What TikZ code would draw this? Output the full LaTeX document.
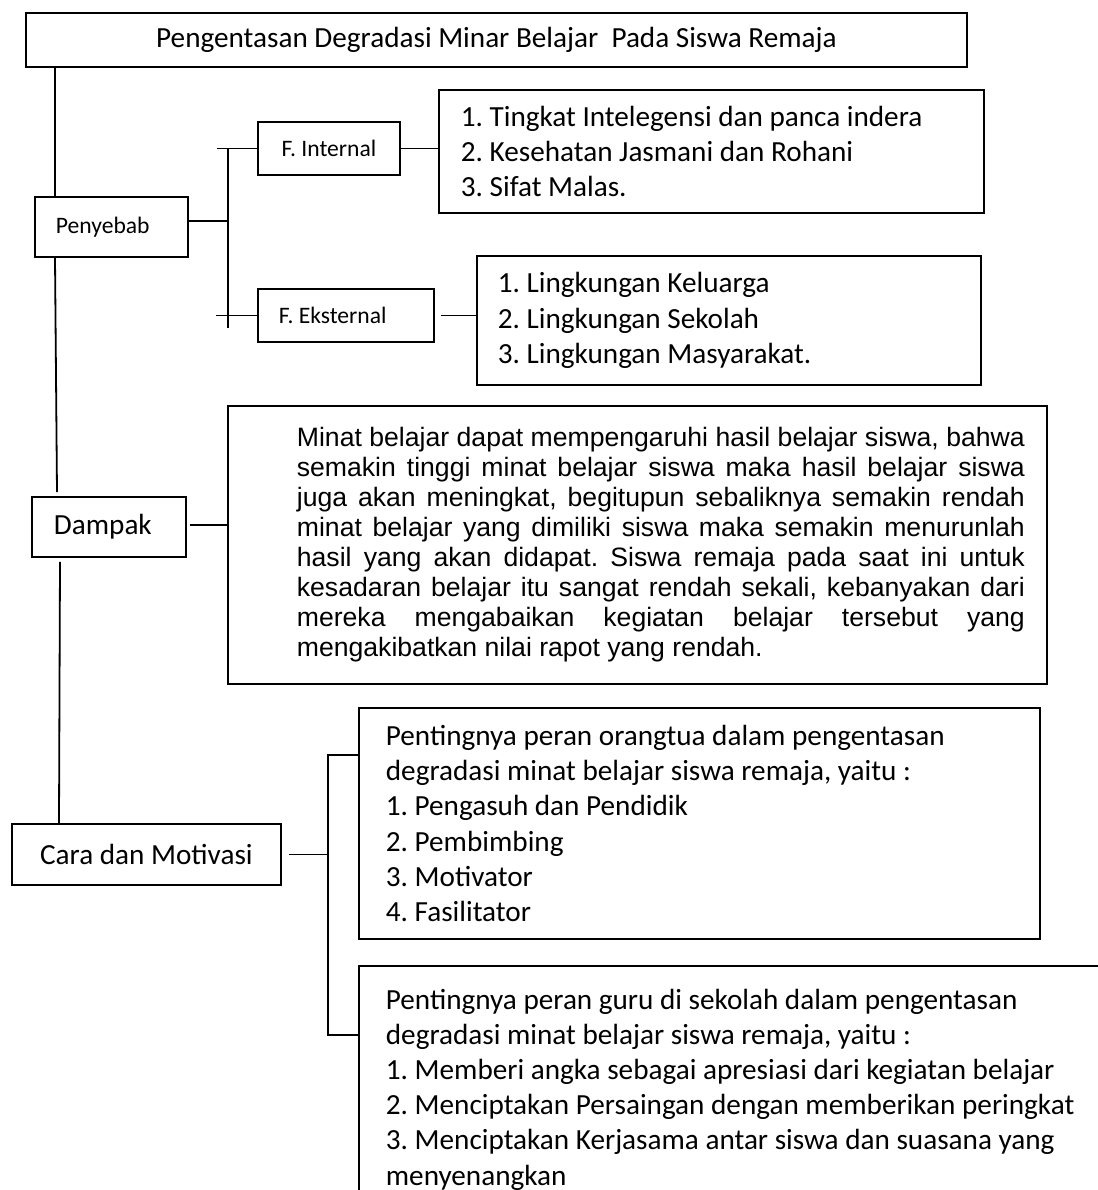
\documentclass[tikz,border=0pt]{standalone}
\usepackage{fontspec}
\setmainfont{Carlito}
\newfontfamily\arialfont{Liberation Sans}
\usepackage{tikz}
\usetikzlibrary{calc}
\frenchspacing

\begin{document}
\begin{tikzpicture}[x=0.5pt, y=-0.5pt, line width=0.9pt,
			box/.style={draw, rectangle, anchor=north west, inner ysep=0pt,
				font=\fontsize{14.6}{17.6}\selectfont},
			kecil/.style={font=\fontsize{11.8}{14}\selectfont},
			kiri/.style={align=flush left},
			isi/.style={font=\arialfont\fontsize{13.3}{15}\selectfont, inner xsep=11pt}
			]
			\useasboundingbox (0,0) rectangle (1098,1190);
			
			\node[box, minimum width=470.5pt, minimum height=27pt] (judul) at (25,12)
				{Pengentasan Degradasi Minar Belajar\ \ Pada Siswa Remaja};
			
			\node[box, kecil, kiri, minimum width=76.5pt, minimum height=30pt, inner xsep=10.5pt, text width=55.5pt] (penyebab) at (34,196) {Penyebab};
			\node[box, kecil, minimum width=71pt, minimum height=26.5pt] (internal) at (257,121) {F. Internal};
			\node[box, kecil, kiri, minimum width=88pt, minimum height=26.5pt, inner xsep=10.5pt, text width=67pt] (eksternal) at (257,288) {F. Eksternal};
			\node[box, kiri, minimum width=272.5pt, minimum height=61.5pt, inner xsep=11pt, text width=250.5pt] (ilist) at (438,89)
				{1. Tingkat Intelegensi dan panca indera\\ 2. Kesehatan Jasmani dan Rohani\\ 3. Sifat Malas.};
			\node[box, kiri, minimum width=252pt, minimum height=64.5pt, inner xsep=10.5pt, text width=231pt] (elist) at (476,255)
				{1. Lingkungan Keluarga\\ 2. Lingkungan Sekolah\\ 3. Lingkungan Masyarakat.};
			
			\node[box, kiri, minimum width=77pt, minimum height=30pt, inner xsep=11pt, text width=55pt] (dampak) at (31,496) {Dampak};
			\node[box, isi, minimum width=409.5pt, minimum height=139pt] (dampakisi) at (227,405)
				{\hspace*{23.5pt}\parbox{364pt}{%
					\makebox[\linewidth][s]{Minat belajar dapat mempengaruhi hasil belajar siswa, bahwa}\\
					\makebox[\linewidth][s]{semakin tinggi minat belajar siswa maka hasil belajar siswa}\\
					\makebox[\linewidth][s]{juga akan meningkat, begitupun sebaliknya semakin rendah}\\
					\makebox[\linewidth][s]{minat belajar yang dimiliki siswa maka semakin menurunlah}\\
					\makebox[\linewidth][s]{hasil yang akan didapat. Siswa remaja pada saat ini untuk}\\
					\makebox[\linewidth][s]{kesadaran belajar itu sangat rendah sekali, kebanyakan dari}\\
					\makebox[\linewidth][s]{mereka mengabaikan kegiatan belajar tersebut yang}\\
					mengakibatkan nilai rapot yang rendah.}};
			
			\node[box, minimum width=134.5pt, minimum height=30.5pt] (cara) at (11,823) {Cara dan Motivasi};
			\node[box, kiri, minimum width=340.5pt, minimum height=115.5pt, inner xsep=13.5pt, text width=313.5pt] (ortu) at (358,707)
				{Pentingnya peran orangtua dalam pengentasan\\ degradasi minat belajar siswa remaja, yaitu :\\ 1. Pengasuh dan Pendidik\\ 2. Pembimbing\\ 3. Motivator\\ 4. Fasilitator};
			\node[box, kiri, minimum width=378.5pt, minimum height=123.5pt, inner xsep=13.5pt, text width=351.5pt] (guru) at (358,965)
				{Pentingnya peran guru di sekolah dalam pengentasan\\ degradasi minat belajar siswa remaja, yaitu :\\ 1. Memberi angka sebagai apresiasi dari kegiatan belajar\\ 2. Menciptakan Persaingan dengan memberikan peringkat\\ 3. Menciptakan Kerjasama antar siswa dan suasana yang\\ menyenangkan};
			
			\coordinate (a1) at ($(penyebab.north west)+(21,0)$);
			\coordinate (b1) at ($(internal.west)+(-29,0)$);
			\coordinate (b2) at ($(ortu.north west)+(-30,48)$);
			
			\draw (a1) -- (a1 |- judul.south);
			\draw ($(penyebab.south west)+(21,0)$) -- ($(dampak.north west)+(26,-4)$);
			\draw ($(dampak.south west)+(29,4)$) -- ($(cara.north west)+(48,0)$);
			
			\draw ($(penyebab.east)+(0,-6)$) -- ($(penyebab.east -| b1)+(0,-6)$);
			\draw (b1) -- ($(b1 |- eksternal.west)+(0,13)$);
			\draw ($(internal.west)+(-40,0)$) -- (internal.west);
			\draw ($(eksternal.west)+(-41,0)$) -- (eksternal.west);
			\draw (internal.east) -- (internal.east -| ilist.west);
			\draw ($(eksternal.east)+(6,0)$) -- (eksternal.east -| elist.west);
			
			\draw ($(dampak.east)+(3,-2)$) -- ($(dampak.east -| dampakisi.west)+(0,-2)$);
			
			\draw ($(cara.east)+(7,0)$) -- (cara.east -| b2);
			\draw ($(ortu.north west)+(0,48)$) -- (b2) |- ($(guru.north west)+(0,70)$);
		\end{tikzpicture}
\end{document}
